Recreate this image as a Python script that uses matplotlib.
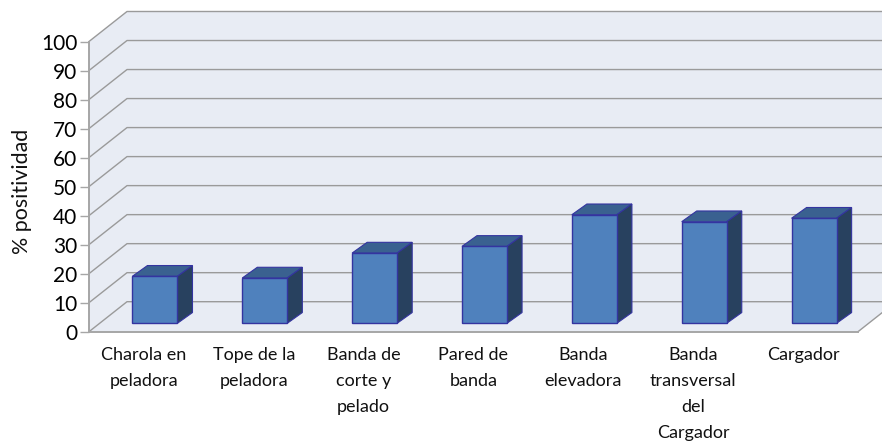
"""3D-look column chart of % positividad by sampling point."""
import matplotlib

matplotlib.use("Agg")
import matplotlib.pyplot as plt
import numpy as np
from matplotlib.patches import Polygon

categories = [
    "Charola en\npeladora",
    "Tope de la\npeladora",
    "Banda de\ncorte y\npelado",
    "Pared de\nbanda",
    "Banda\nelevadora",
    "Banda\ntransversal\ndel\nCargador",
    "Cargador",
]
values = [16.2, 15.6, 24.2, 26.5, 37.4, 35.0, 36.2]
y_ticks = list(range(0, 101, 10))

W, H = 882, 445
LEFT, RIGHT, TOP, BOTTOM = 89, 858, 41.5, 331.7

# depth of the fake 3D box, in data units
DEPTH_X = 38 / ((RIGHT - LEFT) / 7)
DEPTH_Y = 30 / ((BOTTOM - TOP) / 100)
BAR_W = 0.41
BAR_SHIFT = 0.10
BAR_BASE = 2.9
BAR_DX = 0.137
BAR_DY = 3.7

WALL = "#E8ECF4"
GRID = "#9A9A9A"
FRONT = "#4F81BD"
TOP_C = "#3A6190"
SIDE = "#28415F"
EDGE = "#3434A0"

plt.rcParams["font.family"] = ["Lato", "DejaVu Sans"]

fig = plt.figure(figsize=(W / 100, H / 100), dpi=100)
ax = fig.add_axes([LEFT / W, 1 - BOTTOM / H, (RIGHT - LEFT) / W, (BOTTOM - TOP) / H])
ax.set_xlim(0, 7)
ax.set_ylim(0, 100)
ax.patch.set_visible(False)

# side wall, back wall and floor
ax.add_patch(Polygon([(0, 0), (DEPTH_X, DEPTH_Y), (DEPTH_X, 100 + DEPTH_Y), (0, 100)],
                     fc=WALL, ec="none", clip_on=False, zorder=0))
ax.add_patch(Polygon([(DEPTH_X, DEPTH_Y), (7 + DEPTH_X, DEPTH_Y),
                      (7 + DEPTH_X, 100 + DEPTH_Y), (DEPTH_X, 100 + DEPTH_Y)],
                     fc=WALL, ec="none", clip_on=False, zorder=0))
ax.add_patch(Polygon([(0, 0), (7, 0), (7 + DEPTH_X, DEPTH_Y), (DEPTH_X, DEPTH_Y)],
                     fc=WALL, ec="none", clip_on=False, zorder=0))

for v in y_ticks:
    ax.plot([0, DEPTH_X, 7 + DEPTH_X], [v, v + DEPTH_Y, v + DEPTH_Y],
            color=GRID, lw=1.0, clip_on=False, zorder=1)
ax.plot([7, 7 + DEPTH_X], [0, DEPTH_Y], color=GRID, lw=1.0, clip_on=False, zorder=1)

# columns
x = np.arange(7) + 0.5 + BAR_SHIFT
ax.bar(x, values, BAR_W, bottom=BAR_BASE, color=FRONT, edgecolor=EDGE, linewidth=1.0, zorder=4)
for xi, v in zip(x, values):
    x0, x1 = xi - BAR_W / 2, xi + BAR_W / 2
    top = BAR_BASE + v
    ax.add_patch(Polygon([(x0, top), (x1, top), (x1 + BAR_DX, top + BAR_DY), (x0 + BAR_DX, top + BAR_DY)],
                         fc=TOP_C, ec=EDGE, lw=0.8, zorder=3))
    ax.add_patch(Polygon([(x1, BAR_BASE), (x1 + BAR_DX, BAR_BASE + BAR_DY),
                          (x1 + BAR_DX, top + BAR_DY), (x1, top)],
                         fc=SIDE, ec=EDGE, lw=0.8, zorder=3))

for side in ("top", "right"):
    ax.spines[side].set_visible(False)
for side in ("left", "bottom"):
    ax.spines[side].set_color("#A6A6A6")
    ax.spines[side].set_linewidth(1.4)

ax.set_yticks(y_ticks)
ax.tick_params(axis="y", length=6.5, width=1.0, color="#A6A6A6", labelsize=15, pad=2)
ax.set_xticks(np.arange(7) + 0.5)
ax.set_xticklabels(categories, fontsize=13, linespacing=1.78, color="#111111")
ax.tick_params(axis="x", length=0, pad=11)
ax.set_ylabel("% positividad", fontsize=15.4, color="#111111")
ax.yaxis.set_label_coords(-0.074, 0.485)

fig.savefig("out.png", dpi=100)
